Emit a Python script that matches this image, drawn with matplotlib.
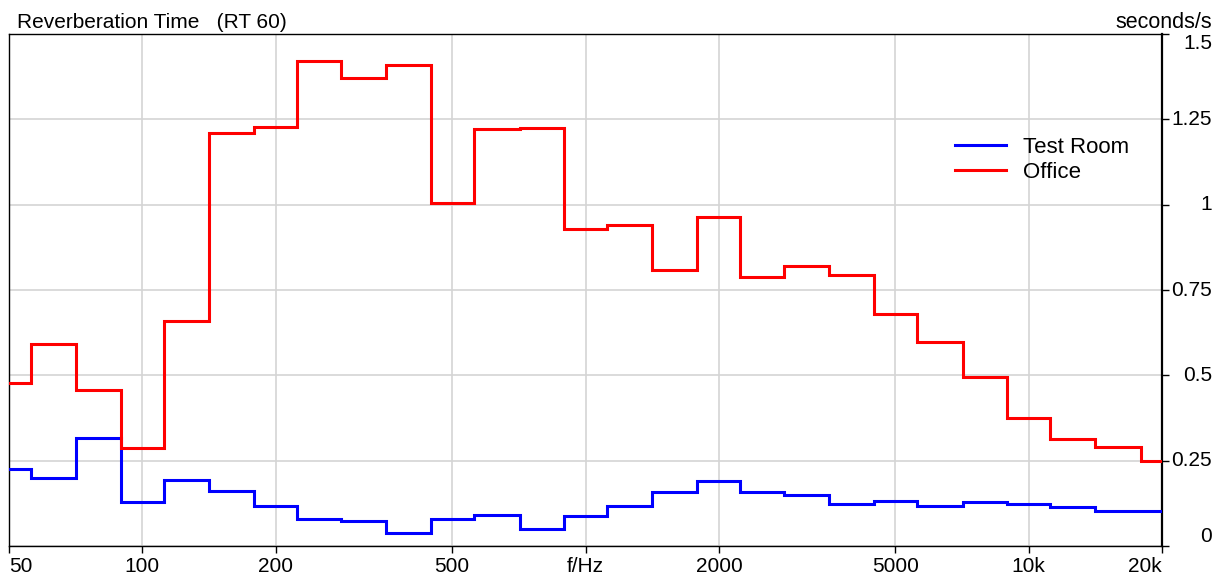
#!/usr/bin/env python3
import numpy as np
import matplotlib
matplotlib.use("Agg")
import matplotlib.pyplot as plt
from matplotlib.transforms import blended_transform_factory

# third-octave band centres (Hz)
bands = [50, 63, 80, 100, 125, 160, 200, 250, 315, 400, 500, 630, 800, 1000,
         1250, 1600, 2000, 2500, 3150, 4000, 5000, 6300, 8000, 10000, 12500,
         16000, 20000]

# RT60 per band, seconds
test_room = [0.225, 0.200, 0.315, 0.128, 0.194, 0.161, 0.117, 0.078, 0.072,
             0.038, 0.079, 0.092, 0.049, 0.087, 0.118, 0.159, 0.189, 0.159,
             0.148, 0.123, 0.133, 0.118, 0.129, 0.124, 0.114, 0.104, 0.104]
office = [0.477, 0.593, 0.457, 0.287, 0.660, 1.210, 1.229, 1.420, 1.371,
          1.410, 1.004, 1.221, 1.225, 0.930, 0.941, 0.809, 0.965, 0.788,
          0.821, 0.793, 0.681, 0.597, 0.496, 0.374, 0.314, 0.291, 0.250]

series = [("Test Room", test_room, "#0000ff"), ("Office", office, "#ff0000")]

xticks = [50, 100, 200, 500, 1000, 2000, 5000, 10000, 20000]
xticklabels = ["50", "100", "200", "500", "f/Hz", "2000", "5000", "10k", "20k"]
yticks = [0, 0.25, 0.5, 0.75, 1, 1.25, 1.5]
yticklabels = ["0", "0.25", "0.5", "0.75", "1", "1.25", "1.5"]


def band_edges(centres):
    """Geometric midpoints between band centres, extended half a band at each end."""
    lc = np.log10(np.asarray(centres, dtype=float))
    mids = (lc[:-1] + lc[1:]) / 2
    step = (lc[-1] - lc[0]) / (len(lc) - 1)
    return 10 ** np.concatenate([[lc[0] - step / 2], mids, [lc[-1] + step / 2]])


def main():
    plt.rcParams["font.family"] = ["Liberation Sans", "DejaVu Sans"]
    plt.rcParams["font.size"] = 15

    fig = plt.figure(figsize=(12.22, 5.74), dpi=100)
    ax = fig.add_axes([9 / 1222, 1 - 546 / 574, (1162 - 9) / 1222, (546 - 34) / 574])

    edges = band_edges(bands)
    for name, vals, col in series:
        ax.stairs(vals, edges, baseline=None, color=col, lw=2.2, label=name, zorder=3)

    ax.set_xscale("log")
    ax.set_xlim(50, 20000)
    ax.set_ylim(0, 1.5)

    ax.set_xticks(xticks)
    ax.set_xticklabels(xticklabels)
    ax.xaxis.set_minor_locator(matplotlib.ticker.NullLocator())
    labs = ax.get_xticklabels()
    labs[0].set_ha("left")
    labs[-1].set_ha("right")
    ax.tick_params(axis="x", length=5, width=1, pad=3, labelsize=15, color="black")

    ax.set_yticks(yticks)
    ax.yaxis.tick_right()
    ax.tick_params(axis="y", length=5, width=1, direction="out", labelright=False, labelleft=False)

    # right-aligned y labels, first and last pulled inside the frame
    trans = blended_transform_factory(fig.transFigure, ax.transData)
    for v, s in zip(yticks, yticklabels):
        va = "center"
        if v == yticks[0]:
            va = "bottom"
        elif v == yticks[-1]:
            va = "top"
        ax.text(1212 / 1222, v, s, transform=trans, ha="right", va=va, fontsize=15)

    ax.grid(True, which="major", color="#d4d4d4", lw=1.2)
    ax.set_axisbelow(True)

    for side in ["left", "top", "bottom"]:
        ax.spines[side].set_color("black")
        ax.spines[side].set_linewidth(1.0)
    ax.spines["right"].set_linewidth(1.6)

    fig.text(17 / 1222, 1 - 28 / 574, "Reverberation Time   (RT 60)", ha="left", va="baseline", fontsize=15)
    fig.text(1212 / 1222, 1 - 28 / 574, "seconds/s", ha="right", va="baseline", fontsize=15.5)

    ax.legend(loc="center left", bbox_to_anchor=(955 / 1222, 1 - 160 / 574),
              bbox_transform=fig.transFigure, frameon=False, fontsize=16,
              handlelength=2.3, handletextpad=0.75, labelspacing=0.2,
              borderpad=0, borderaxespad=0)

    fig.savefig("out.png", dpi=100)


if __name__ == "__main__":
    main()
